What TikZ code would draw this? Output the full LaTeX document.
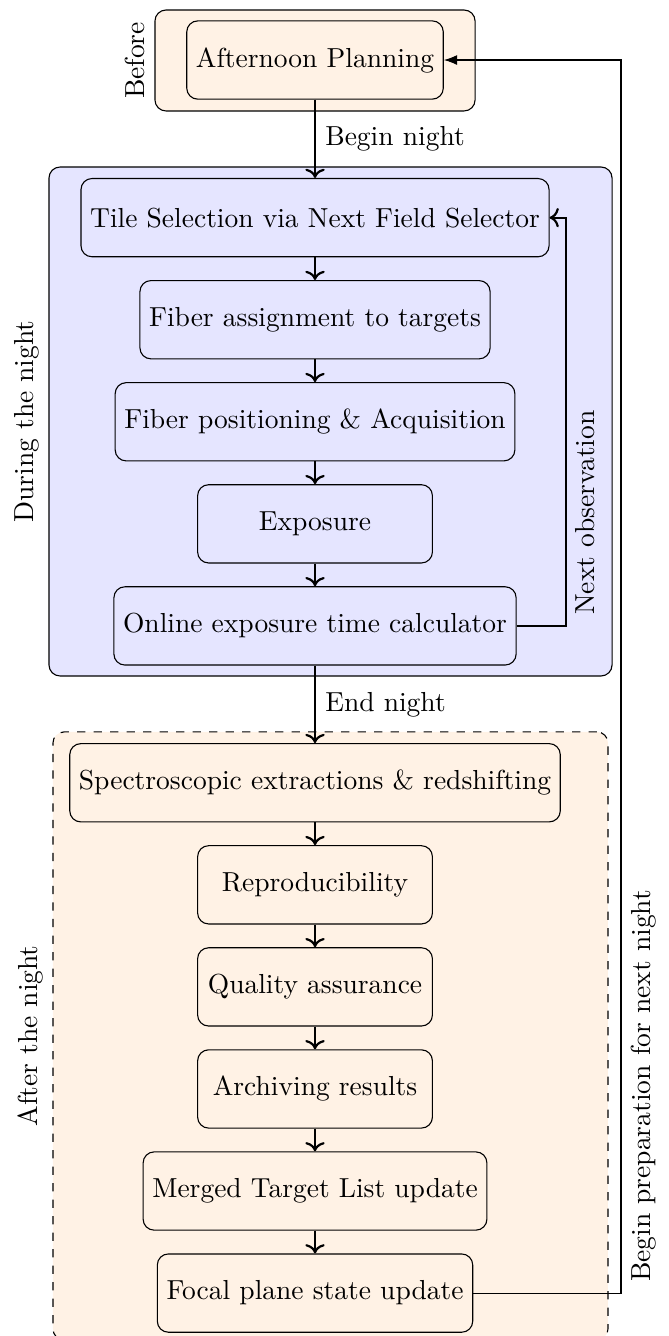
\documentclass[tikz,border=0pt]{standalone}
\usepackage{xcolor}
\usepackage{tikz}
\usetikzlibrary{arrows.meta, positioning, calc, fit, backgrounds}

\begin{document}
\begin{tikzpicture}[
        stepbox/.style={draw, rounded corners, minimum width=3cm, minimum height=1cm},
        phase/.style={draw, rounded corners, inner sep=0pt},
        flow/.style={->, thick},
        phaselabel/.style={rotate=90, anchor=south}
    ]
        \useasboundingbox (0,0) rectangle (8.535,-17.07);
        \node[stepbox] (plan) at (4.025,-0.767) {Afternoon Planning};
        \node[stepbox, below=1cm of plan] (tile) {Tile Selection via Next Field Selector};
        \node[stepbox, below=0.29cm of tile] (assign) {Fiber assignment to targets};
        \node[stepbox, below=0.29cm of assign] (position) {Fiber positioning \& Acquisition};
        \node[stepbox, below=0.29cm of position] (exposure) {Exposure};
        \node[stepbox, below=0.29cm of exposure] (etc) {Online exposure time calculator};
        \node[stepbox, below=0.99cm of etc] (spectro) {Spectroscopic extractions \& redshifting};
        \node[stepbox, below=0.29cm of spectro] (repro) {Reproducibility};
        \node[stepbox, below=0.29cm of repro] (quality) {Quality assurance};
        \node[stepbox, below=0.29cm of quality] (archive) {Archiving results};
        \node[stepbox, below=0.29cm of archive] (mtl) {Merged Target List update};
        \node[stepbox, below=0.29cm of mtl] (focal) {Focal plane state update};
        \begin{scope}[on background layer]
            \node[phase, fill=orange!10, fit={(1.98,-0.128) (6.07,-1.418)}] (before) {};
            \node[phase, fill=blue!10, fit={(0.626,-2.134) (7.82,-8.637)}] (during) {};
            \node[phase, dashed, fill=orange!10, fit={(0.677,-9.352) (7.768,-17.12)}] (after) {};
        \end{scope}
        \node[phaselabel] at (before.west) {Before};
        \node[phaselabel] at (during.west) {During the night};
        \node[phaselabel] at (after.west) {After the night};
        \draw[flow] (plan) -- node[right] {Begin night} (tile);
        \draw[flow] (tile) -- (assign);
        \draw[flow] (assign) -- (position);
        \draw[flow] (position) -- (exposure);
        \draw[flow] (exposure) -- (etc);
        \draw[flow] (etc) -- node[right] {End night} (spectro);
        \draw[flow] (spectro) -- (repro);
        \draw[flow] (repro) -- (quality);
        \draw[flow] (quality) -- (archive);
        \draw[flow] (archive) -- (mtl);
        \draw[flow] (mtl) -- (focal);
        \coordinate (nextx) at (7.23,0);
        \coordinate (prepx) at (7.934,0);
        \draw[flow] (etc.east) -- (etc.east -| nextx) -- (tile.east -| nextx) -- (tile.east);
        \node[rotate=90, anchor=north] (nextlabel) at (7.23,-6.55) {Next observation};
        \draw[-Latex] (focal.east) -- (focal.east -| prepx) -- (plan.east -| prepx) -- (plan.east);
        \node[rotate=90, anchor=north] (preplabel) at (7.934,-13.875) {Begin preparation for next night};
\end{tikzpicture}
\end{document}
